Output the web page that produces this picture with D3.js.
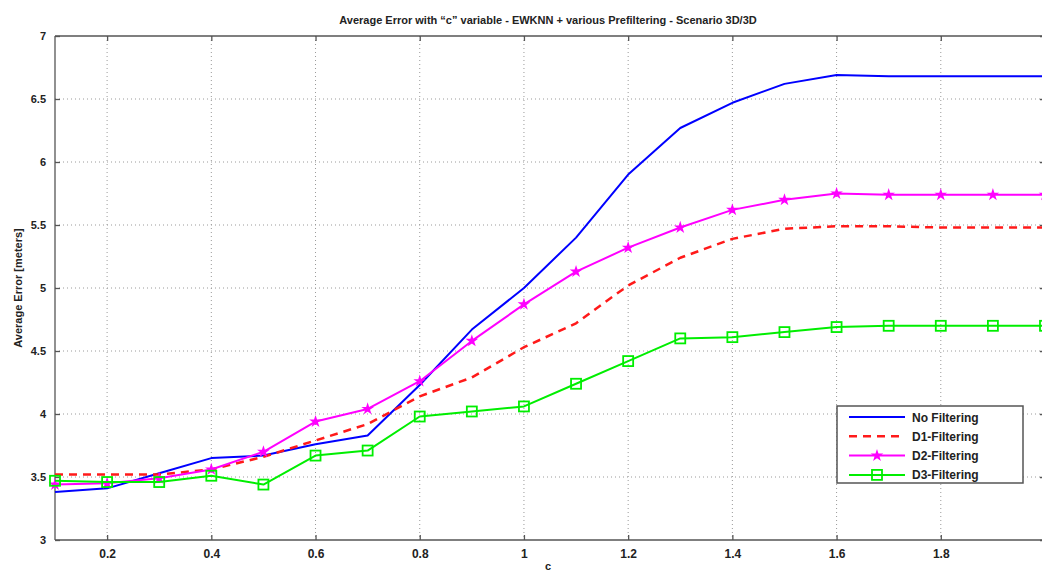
<!DOCTYPE html>
<html><head><meta charset="utf-8">
<script src="https://cdn.jsdelivr.net/npm/d3@7"></script>
<style>
html,body{margin:0;padding:0;background:#fff;}
svg{display:block;font-family:"Liberation Sans",Arial,sans-serif;}
</style></head>
<body>
<svg id="chart" width="1042" height="572"></svg>
<script>
const cValues = [0.1,0.2,0.3,0.4,0.5,0.6,0.7,0.8,0.9,1.0,1.1,1.2,1.3,1.4,1.5,1.6,1.7,1.8,1.9,2.0];
const noFiltering = [3.38,3.41,3.53,3.65,3.67,3.76,3.83,4.23,4.67,5.00,5.40,5.90,6.27,6.47,6.62,6.69,6.68,6.68,6.68,6.68];
const d1Filtering = [3.52,3.52,3.52,3.56,3.66,3.79,3.92,4.14,4.29,4.53,4.72,5.02,5.24,5.39,5.47,5.49,5.49,5.48,5.48,5.48];
const d2Filtering = [3.44,3.45,3.49,3.56,3.70,3.94,4.04,4.26,4.58,4.87,5.13,5.32,5.48,5.62,5.70,5.75,5.74,5.74,5.74,5.74];
const d3Filtering = [3.47,3.46,3.46,3.51,3.44,3.67,3.71,3.98,4.02,4.06,4.24,4.42,4.60,4.61,4.65,4.69,4.70,4.70,4.70,4.70];
const xTicks = [0.2,0.4,0.6,0.8,1,1.2,1.4,1.6,1.8];
const yTicks = [3,3.5,4,4.5,5,5.5,6,6.5,7];
const seriesNames = ["No Filtering","D1-Filtering","D2-Filtering","D3-Filtering"];
const titleText = "Average Error with \u201cc\u201d variable - EWKNN + various Prefiltering - Scenario 3D/3D";
const xLabel = "c";
const yLabel = "Average Error [meters]";

const svg = d3.select("#chart");
const L = 55, R = 1045, T = 36, B = 540;
const x = d3.scaleLinear().domain([0.1, 2]).range([L, R]);
const y = d3.scaleLinear().domain([3, 7]).range([B, T]);

// grid
const grid = svg.append("g").attr("stroke","#9a9a9a").attr("stroke-width",1).attr("stroke-dasharray","1,3");
xTicks.forEach(t => grid.append("line").attr("x1",x(t)).attr("x2",x(t)).attr("y1",T).attr("y2",B));
yTicks.slice(1,-1).forEach(t => grid.append("line").attr("x1",L).attr("x2",R).attr("y1",y(t)).attr("y2",y(t)));

// box
const box = svg.append("g").attr("stroke","#555").attr("stroke-width",1.3).attr("fill","none");
box.append("line").attr("x1",L).attr("x2",R).attr("y1",B).attr("y2",B);
box.append("line").attr("x1",L).attr("x2",R).attr("y1",T).attr("y2",T);
box.append("line").attr("x1",L).attr("x2",L).attr("y1",T).attr("y2",B);

// axes (inward ticks)
const xAxis = svg.append("g").attr("transform",`translate(0,${B})`)
  .call(d3.axisBottom(x).tickValues(xTicks).tickSizeInner(-5).tickSizeOuter(0).tickPadding(9).tickFormat(d3.format("")));
const xTop = svg.append("g").attr("transform",`translate(0,${T})`)
  .call(d3.axisTop(x).tickValues(xTicks).tickSizeInner(-5).tickSizeOuter(0).tickFormat(""));
const yAxis = svg.append("g").attr("transform",`translate(${L},0)`)
  .call(d3.axisLeft(y).tickValues(yTicks).tickSizeInner(-5).tickSizeOuter(0).tickPadding(9).tickFormat(d3.format("")));
const yRight = svg.append("g").attr("transform",`translate(${R},0)`)
  .call(d3.axisRight(y).tickValues(yTicks).tickSizeInner(-5).tickSizeOuter(0).tickFormat(""));
[xAxis,xTop,yAxis,yRight].forEach(a => {
  a.select(".domain").remove();
  a.selectAll(".tick line").attr("stroke","#555").attr("stroke-width",1.3);
  a.selectAll("text").attr("fill","#222").attr("font-size",11).attr("font-weight","bold")
    .attr("font-family","'Liberation Sans Narrow','Liberation Sans',Arial,sans-serif");
});
xAxis.selectAll("text").attr("font-size",12);

// labels
svg.append("text").attr("x",548).attr("y",24).attr("text-anchor","middle")
  .attr("font-size",11).attr("font-weight","bold").attr("fill","#222").text(titleText);
svg.append("text").attr("transform",`translate(22,${(T+B)/2}) rotate(-90)`).attr("text-anchor","middle")
  .attr("font-size",11).attr("font-weight","bold").attr("fill","#222").text(yLabel);
svg.append("text").attr("x",548).attr("y",570).attr("text-anchor","middle")
  .attr("font-size",11).attr("font-weight","bold").attr("fill","#222").text(xLabel);

const line = d3.line().x((d,i) => x(cValues[i])).y(d => y(d));
const series = [
  {name:seriesNames[0], vals:noFiltering, color:"#0000ff", dash:null, marker:null, w:2},
  {name:seriesNames[1], vals:d1Filtering, color:"#ff1a1a", dash:"8,6", marker:null, w:2.5},
  {name:seriesNames[2], vals:d2Filtering, color:"#ff00ff", dash:null, marker:"star", w:2},
  {name:seriesNames[3], vals:d3Filtering, color:"#00ee00", dash:null, marker:"square", w:2}
];
const plot = svg.append("g");
function drawMarker(g, type, cx, cy, color){
  if(type==="star"){
    g.append("path").attr("d", d3.symbol().type(d3.symbolStar).size(20)())
      .attr("transform",`translate(${cx},${cy})`).attr("fill",color).attr("stroke",color).attr("stroke-width",1.5);
  } else if(type==="square"){
    g.append("rect").attr("x",cx-5).attr("y",cy-5).attr("width",10).attr("height",10)
      .attr("fill","none").attr("stroke",color).attr("stroke-width",1.8);
  }
}
series.forEach(s => {
  const p = plot.append("path").datum(s.vals).attr("d",line).attr("fill","none")
    .attr("stroke",s.color).attr("stroke-width",s.w).attr("stroke-linejoin","round");
  if(s.dash) p.attr("stroke-dasharray",s.dash);
  if(s.marker) s.vals.forEach((v,i) => drawMarker(plot, s.marker, x(cValues[i]), y(v), s.color));
});

// legend
const lg = svg.append("g");
lg.append("rect").attr("x",837).attr("y",406).attr("width",186).attr("height",77)
  .attr("fill","#fff").attr("stroke","#555").attr("stroke-width",1.5);
series.forEach((s,i) => {
  const yy = 417 + i*19.3;
  const l = lg.append("line").attr("x1",849).attr("x2",905).attr("y1",yy).attr("y2",yy)
    .attr("stroke",s.color).attr("stroke-width",s.w);
  if(s.dash) l.attr("stroke-dasharray",s.dash);
  if(s.marker) drawMarker(lg, s.marker, 877, yy, s.color);
  lg.append("text").attr("x",912).attr("y",yy+4.5).attr("font-size",12).attr("font-weight","bold")
    .attr("fill","#222").text(s.name);
});
</script>
</body></html>
